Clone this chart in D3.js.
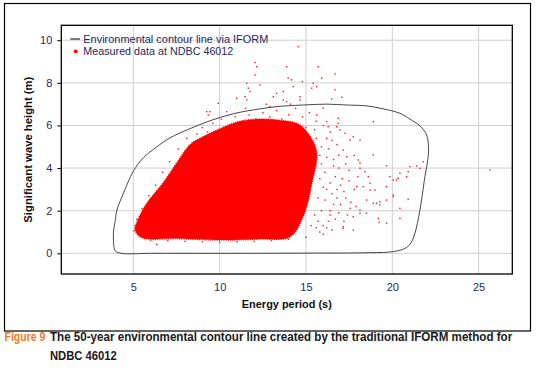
<!DOCTYPE html>
<html>
<head>
<meta charset="utf-8">
<script src="https://cdn.jsdelivr.net/npm/d3@7"></script>
<style>
  html, body { margin: 0; padding: 0; background: #fff; }
  svg { display: block; font-family: "Liberation Sans", Arial, sans-serif; }
</style>
</head>
<body>
<div id="chart"></div>
<script>
// =========================
// DATA (energy period T in s, significant wave height H in m)
// =========================
const xTicks = [5, 10, 15, 20, 25];
const yTicks = [0, 2, 4, 6, 8, 10];

// 50-year IFORM contour
const contour = [
  [4.3, 0.0], [3.95, 0.12], [3.86, 0.45], [3.86, 1.09], [3.94, 1.45], [4.05, 2.03],
  [4.42, 2.8], [5.0, 3.85], [5.6, 4.5], [6.35, 4.99], [7.13, 5.42], [8.28, 5.85],
  [9.44, 6.22], [10.79, 6.55], [12.34, 6.78], [13.5, 6.9], [14.84, 6.96], [16.2, 7.0],
  [17.36, 6.96], [18.51, 6.92], [19.29, 6.81], [20.45, 6.57], [21.02, 6.3], [21.6, 5.98],
  [21.99, 5.55], [22.1, 4.85], [22.02, 4.2], [21.89, 3.6], [21.6, 2.03], [21.31, 0.94],
  [21.05, 0.45], [20.73, 0.23], [20.05, 0.08], [18.7, 0.03], [15, 0.01], [10, 0.0], [6, 0.0]
];

// outline of the saturated core of the measured cloud
const denseCore = [
  [5.10, 1.09], [5.39, 0.78], [5.97, 0.67], [7.30, 0.69], [10.19, 0.62], [12.34, 0.67],
  [14.07, 0.77], [14.83, 1.70], [15.35, 3.30], [15.6, 4.85], [14.65, 6.02], [13.49, 6.24],
  [12.34, 6.3], [11.18, 6.2], [10.02, 5.85], [8.86, 5.4], [8.28, 5.1], [7.51, 4.24],
  [6.72, 3.30], [5.79, 2.36], [5.21, 1.47]
];

// individual measured points outside the core
const sparsePoints = [
  // right-hand tail
  [18.90, 6.18], [18.90, 4.62], [18.03, 4.38], [18.13, 4.23], [19.67, 4.11], [20.25, 3.44],
  [20.83, 3.60], [20.92, 3.83], [21.79, 4.30], [21.60, 3.99], [19.86, 3.60], [19.09, 2.35],
  [19.28, 2.27], [19.67, 2.50], [20.06, 2.66], [20.92, 2.54], [20.44, 2.11], [19.19, 1.64],
  [20.44, 1.64], [19.24, 1.46], [18.51, 2.50], [18.61, 3.60], [18.42, 3.83], [18.13, 3.99],
  [18.71, 2.97], [17.94, 3.13], [18.13, 1.88], [17.74, 1.72], [17.16, 1.25], [17.55, 5.32],
  [17.74, 5.47], [16.97, 5.79], [16.78, 5.94], [17.16, 4.85], [17.36, 4.54], [16.87, 6.34],
  [16.20, 6.18], [25.65, 3.91], [21.02, 4.07], [21.41, 4.10], [20.44, 3.76], [20.34, 3.52],
  [20.06, 3.44], [19.67, 3.13], [20.06, 2.74], [19.28, 2.42], [19.67, 1.41], [18.90, 2.35],
  [19.00, 2.97], [18.71, 3.29], [18.32, 3.13], [18.51, 1.88], [18.13, 2.03], [17.74, 1.09],
  [17.16, 1.17], [17.55, 2.11], [16.87, 6.10], [16.29, 5.94], [17.26, 5.63], [18.13, 5.32],
  // upper outliers
  [12.05, 8.95], [12.15, 8.76], [12.05, 8.37], [11.57, 7.98], [11.66, 7.75], [11.47, 7.35],
  [9.92, 7.04], [9.25, 6.65], [9.34, 6.49], [14.55, 9.70], [13.88, 8.76], [15.71, 8.76],
  [15.91, 8.22], [16.68, 8.42], [14.17, 8.14], [14.79, 8.06], [15.42, 7.98], [15.33, 7.75],
  [16.68, 7.67], [17.07, 7.32], [16.49, 7.24], [13.11, 7.35], [13.69, 7.20], [14.65, 7.20],
  [15.62, 7.82], [13.97, 8.22], [14.26, 7.82], [13.69, 7.59], [13.30, 7.51], [12.34, 7.90],
  [11.76, 7.59], [11.57, 7.20], [10.99, 7.28], [10.41, 6.65], [9.44, 6.65], [14.65, 7.35],
  [13.88, 7.12], [12.92, 6.88], [16.00, 6.81], [15.62, 6.49],
  // fringe above the core
  [9.0, 5.9], [9.6, 6.1], [10.1, 6.3], [10.5, 6.0], [10.9, 6.4], [11.3, 6.2], [11.7, 6.5],
  [12.1, 6.3], [12.5, 6.6], [12.9, 6.4], [13.3, 6.7], [13.6, 6.3], [14.0, 6.5], [14.4, 6.8],
  [14.8, 6.4], [15.2, 6.6], [15.6, 6.2], [16.0, 6.0], [16.4, 5.7], [10.3, 5.8], [11.0, 5.95],
  [12.0, 5.9], [13.0, 6.0], [14.2, 6.0], [15.0, 5.9], [8.7, 5.6], [9.3, 5.7], [11.5, 6.8],
  [12.7, 7.0], [14.1, 7.0],
  // fringe right of the core
  [16.3, 4.9], [16.6, 4.4], [16.9, 4.0], [17.1, 3.5], [16.8, 3.0], [17.3, 2.6], [16.6, 2.3],
  [16.9, 1.9], [16.3, 1.5], [17.5, 3.9], [17.8, 4.6], [16.5, 5.3], [17.2, 2.9], [17.6, 2.4],
  [16.2, 1.2], [15.8, 1.0], [16.0, 0.9],
  [15.9, 4.2], [16.1, 3.8], [16.2, 4.5], [16.4, 3.3], [16.0, 3.1], [16.5, 2.8], [16.1, 2.5],
  [15.9, 2.0], [16.4, 2.0], [16.7, 1.6], [15.7, 1.5], [16.0, 1.3], [16.7, 3.6], [16.9, 4.6],
  [17.0, 3.2], [17.3, 4.2], [17.5, 3.4], [17.0, 2.3], [17.4, 1.8], [16.5, 1.1], [15.6, 5.4],
  [15.9, 5.0], [16.2, 5.4], [16.8, 5.1], [17.8, 3.0], [17.9, 2.2], [18.0, 3.6], [15.5, 5.8],
  [16.6, 4.1], [16.2, 3.0], [15.8, 3.5], [16.8, 2.6], [17.2, 1.5], [16.4, 1.8], [15.6, 1.2],
  [15.8, 4.6], [15.7, 2.6], [15.5, 1.8], [15.3, 1.3],
  // fringe below and left of the core
  [6.0, 0.62], [7.0, 0.6], [8.0, 0.56], [9.0, 0.54], [10.0, 0.52], [11.0, 0.54], [12.0, 0.56],
  [13.0, 0.6], [14.0, 0.66], [15.0, 0.75], [6.35, 0.42],
  [5.2, 1.6], [5.1, 1.3], [5.5, 2.1], [5.9, 2.7], [6.3, 3.2], [6.7, 3.8], [7.1, 4.3],
  [7.6, 4.9], [8.1, 5.4], [5.05, 1.05]
];

const legendItems = ["Environmental contour line via IFORM", "Measured data at NDBC 46012"];
const captionLabel = "Figure 9";
const captionLine1 = "The 50-year environmental contour line created by the traditional IFORM method for";
const captionLine2 = "NDBC 46012";

// =========================
// SETUP
// =========================
const W = 537, H = 379;
const plot = { left: 61.3, top: 25.3, right: 512.3, bottom: 274 };
const tickColor = "#28285e";

const svg = d3.select("#chart").append("svg")
  .attr("width", W)
  .attr("height", H);

// squeeze a text horizontally (Myriad in the original is narrower than our fonts)
function fitText(g, x0, y0, width, str) {
  const t = g.append("text").text(str);
  const natural = t.node().getComputedTextLength();
  const sx = Math.min(1, width / natural);
  t.attr("transform", `translate(${x0},${y0}) scale(${sx},1)`);
  return t;
}

// outer figure frame
svg.append("rect")
  .attr("x", 4.5).attr("y", 3.5)
  .attr("width", 526).attr("height", 327.5)
  .attr("fill", "none")
  .attr("stroke", "#000")
  .attr("stroke-width", 1.2);

// =========================
// SCALES
// =========================
const x = d3.scaleLinear().domain([0.83, 26.95]).range([plot.left, plot.right]);
const y = d3.scaleLinear().domain([-0.97, 10.7]).range([plot.bottom, plot.top]);

// =========================
// GRID
// =========================
const grid = svg.append("g");
grid.selectAll("line.v").data(xTicks).enter().append("line")
  .attr("x1", d => x(d)).attr("x2", d => x(d))
  .attr("y1", plot.top).attr("y2", plot.bottom)
  .attr("stroke", "#cfcfcf").attr("stroke-width", 1);
grid.selectAll("line.h").data(yTicks).enter().append("line")
  .attr("x1", plot.left).attr("x2", plot.right)
  .attr("y1", d => y(d)).attr("y2", d => y(d))
  .attr("stroke", "#cfcfcf").attr("stroke-width", 1);

// =========================
// DATA MARKS
// =========================
svg.append("clipPath").attr("id", "plotclip")
  .append("rect")
  .attr("x", plot.left).attr("y", plot.top)
  .attr("width", plot.right - plot.left).attr("height", plot.bottom - plot.top);

const marks = svg.append("g").attr("clip-path", "url(#plotclip)");

marks.append("path")
  .datum(denseCore)
  .attr("d", d3.line().x(d => x(d[0])).y(d => y(d[1])).curve(d3.curveCatmullRomClosed.alpha(0.5)))
  .attr("fill", "#ff0000")
  .attr("stroke", "#ff0000")
  .attr("stroke-width", 1.4)
  .attr("stroke-dasharray", "1,1.2");

marks.selectAll("rect.pt")
  .data(sparsePoints)
  .enter().append("rect")
  .attr("class", "pt")
  .attr("x", d => x(d[0]) - 0.7)
  .attr("y", d => y(d[1]) - 0.7)
  .attr("width", 1.4)
  .attr("height", 1.4)
  .attr("fill", "#ff1a1a");

marks.append("path")
  .datum(contour)
  .attr("d", d3.line().x(d => x(d[0])).y(d => y(d[1])).curve(d3.curveCatmullRomClosed.alpha(0.5)))
  .attr("fill", "none")
  .attr("stroke", "#333")
  .attr("stroke-width", 0.9);

// =========================
// AXES
// =========================
svg.append("rect")
  .attr("x", plot.left).attr("y", plot.top)
  .attr("width", plot.right - plot.left).attr("height", plot.bottom - plot.top)
  .attr("fill", "none")
  .attr("stroke", "#000")
  .attr("stroke-width", 1.3);

const yAxis = svg.append("g")
  .attr("transform", `translate(${plot.left},0)`)
  .call(d3.axisLeft(y).tickValues(yTicks).tickSize(4).tickPadding(5));
yAxis.select(".domain").remove();
yAxis.selectAll("line").attr("stroke", "#000");
yAxis.selectAll("text")
  .attr("fill", tickColor)
  .style("font-size", "11px")
  .style("font-family", "Liberation Sans, Arial, sans-serif");

const xAxis = svg.append("g")
  .attr("transform", `translate(0,${plot.bottom})`)
  .call(d3.axisBottom(x).tickValues(xTicks).tickSize(0).tickPadding(9));
xAxis.select(".domain").remove();
xAxis.selectAll("text")
  .attr("fill", tickColor)
  .style("font-size", "11px")
  .style("font-family", "Liberation Sans, Arial, sans-serif");

// =========================
// TITLES
// =========================
svg.append("text")
  .attr("x", (plot.left + plot.right) / 2)
  .attr("y", 308)
  .attr("text-anchor", "middle")
  .attr("textLength", 90)
  .attr("lengthAdjust", "spacingAndGlyphs")
  .style("font-size", "11.5px")
  .style("font-weight", "bold")
  .attr("fill", "#111")
  .text("Energy period (s)");

svg.append("text")
  .attr("transform", `translate(32,${(plot.top + plot.bottom) / 2}) rotate(-90)`)
  .attr("text-anchor", "middle")
  .attr("textLength", 146)
  .attr("lengthAdjust", "spacingAndGlyphs")
  .style("font-size", "11.5px")
  .style("font-weight", "bold")
  .attr("fill", "#111")
  .text("Significant wave height (m)");

// =========================
// LEGEND
// =========================
const legend = svg.append("g");
legend.append("line")
  .attr("x1", 70.3).attr("x2", 80)
  .attr("y1", 39).attr("y2", 39)
  .attr("stroke", "#000").attr("stroke-width", 1);
legend.append("circle")
  .attr("cx", 75.7).attr("cy", 51.3).attr("r", 1.9)
  .attr("fill", "#ff0000");
legend.selectAll("text")
  .data(legendItems)
  .enter().append("text")
  .attr("x", 83.3)
  .attr("y", (d, i) => 43 + i * 12.3)
  .attr("textLength", (d, i) => i === 0 ? 185 : 150)
  .attr("lengthAdjust", "spacingAndGlyphs")
  .style("font-size", "11px")
  .attr("fill", tickColor)
  .text(d => d);

// =========================
// CAPTION
// =========================
const caption = svg.append("g")
  .style("font-weight", "bold")
  .style("font-size", "12.5px");

fitText(caption, 4.5, 341, 41, captionLabel).attr("fill", "#f07b22");
fitText(caption, 50, 341, 463, captionLine1).attr("fill", "#1a1a1a");
fitText(caption, 50, 360, 67, captionLine2).attr("fill", "#1a1a1a");
</script>
</body>
</html>
